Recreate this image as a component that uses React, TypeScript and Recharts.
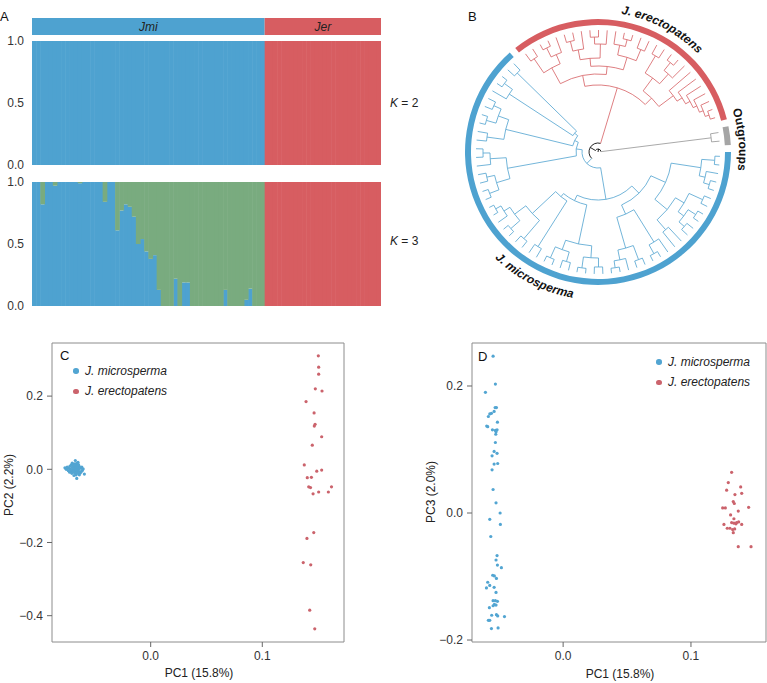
import React from "react";
import {
  BarChart,
  Bar,
  XAxis,
  YAxis,
  LabelList,
  PieChart,
  Pie,
  Cell,
  Customized,
  ScatterChart,
  Scatter,
  ReferenceArea,
} from "recharts";

const FONT = '"Liberation Sans", Arial, Helvetica, sans-serif';
const BLUE = "#4ea2d0";
const RED = "#d75d61";
const GREEN = "#79ab7f";
const GRAY = "#a5a5a5";
const DOT_BLUE = "#52a5d2";
const DOT_RED = "#cb636c";
const TEXT = "#222";

// ---- panel A: admixture proportions ----
const groupNames = ["Jmi", "Jer"];
const groupSizes = [56, 28];

const k2JmiBlue = [
  1, 1, 1, 1, 1, 1, 1, 1, 1, 1, 1, 1, 1, 1, 1, 1, 1, 1, 1, 1, 1, 1, 1, 1, 1, 1, 1, 1,
  1, 1, 1, 1, 1, 1, 1, 1, 1, 1, 1, 1, 1, 1, 1, 1, 1, 1, 1, 1, 1, 1, 1, 1, 1, 1, 1, 1,
];
const k2JerRed = [
  1, 1, 1, 1, 1, 1, 1, 1, 1, 1, 1, 1, 1, 1, 1, 1, 1, 1, 1, 1, 1, 1, 1, 1, 1, 1, 1, 1,
];

const k3JmiBlue = [
  1, 1, 0.82, 1, 1, 0.97, 1, 1, 1, 1, 1, 0.99, 1, 1, 1, 1, 1, 0.84, 1, 1, 0.61, 0.77,
  0.82, 0.8, 0.72, 0.5, 0.54, 0.44, 0.38, 0.41, 0.13, 0, 0, 0, 0.22, 0, 0.19, 0.19, 0, 0,
  0, 0, 0, 0, 0, 0, 0.13, 0, 0, 0, 0, 0.05, 0.14, 0, 0, 0,
];
const k3JmiGreen = [
  0, 0, 0.18, 0, 0, 0.03, 0, 0, 0, 0, 0, 0.01, 0, 0, 0, 0, 0, 0.16, 0, 0, 0.39, 0.23,
  0.18, 0.2, 0.28, 0.5, 0.46, 0.56, 0.62, 0.59, 0.87, 1, 1, 1, 0.78, 1, 0.81, 0.81, 1, 1,
  1, 1, 1, 1, 1, 1, 0.87, 1, 1, 1, 1, 0.95, 0.86, 1, 1, 1,
];
const k3JerRed = [
  1, 1, 1, 1, 1, 1, 1, 1, 1, 1, 1, 1, 1, 1, 1, 1, 1, 1, 1, 1, 1, 1, 1, 1, 1, 1, 1, 1,
];

const qTicks = [0, 0.5, 1];

// ---- panel B: tree (cladogram, internal labels = node radius) ----
const ringSegments = [
  { name: "J. microsperma", value: 56, color: BLUE },
  { name: "gap1", value: 0.75, color: "transparent" },
  { name: "J. erectopatens", value: 28, color: RED },
  { name: "gap2", value: 0.75, color: "transparent" },
  { name: "Outgroups", value: 2, color: GRAY },
  { name: "gap3", value: 0.75, color: "transparent" },
];

const jerG1 = "((x,x)113,((x,x)116,x)106)96";
const jerG2 = "(((x,x)114,x)104,((x,x)115,x)108)94";
const jerG3 = "((x,(x,x)116)109,(x,x)111)99";
const jerG4 = "((x,x)112,((x,x)115,x)105)92";
const jerG5 = "(x,(x,(x,(x,(x,(x,x)117)113)109)105)100)94";
const jerClade = `((${jerG1},(${jerG2},${jerG3})86)78,(${jerG4},${jerG5})76)67`;

const jmiF1 = "((x,x)117,(x,(x,x)116)110)104";
const jmiF2 = "((x,x)115,((x,x)116,(x,x)114)107)100";
const jmiF3 = "(x,x)103";
const jmiR2 = "((x,(x,x)116)106,((x,x)115,(x,(x,x)117)110)100)68";
const jmiP1 = "(((x,x)115,(x,x)117)106,((x,x)114,(x,x)116)104)94";
const jmiP2 = "(x,x)112";
const jmiP3 = "((x,x)114,((x,x)116,(x,(x,x)117)111)104)90";
const jmiS1 = "(((x,x)116,(x,x)114)106,(x,(x,x)115)108)92";
const jmiS2 = "((x,x)112,((x,x)116,(x,x)114)106)95";
const jmiS3 = "(x,(x,x)116)106";
const jmiS4 = "(x,x)113";
const jmiClade = `((((${jmiF1},(${jmiF2},${jmiF3})90)74,${jmiR2})58,(${jmiP1},(${jmiP2},${jmiP3})58)54)48,(${jmiS1},(${jmiS2},(${jmiS3},${jmiS4})30)26)22)16`;

const outClade = "(x,x)114";
const treeNewick = `((${jmiClade},${jerClade})9,${outClade})3`;

// ---- panels C / D: PCA ----
const cMicro = [
  [-0.0672, 0.003], [-0.0655, -0.004], [-0.0701, 0.006], [-0.0688, -0.002], [-0.064, 0.008],
  [-0.0719, 0.001], [-0.0663, 0.012], [-0.0679, -0.009], [-0.0646, -0.012], [-0.0731, 0.004],
  [-0.0694, 0.01], [-0.0658, 0.001], [-0.0712, -0.006], [-0.0627, 0.003], [-0.0684, 0.015],
  [-0.0668, -0.015], [-0.0744, 0.002], [-0.0651, 0.019], [-0.0706, -0.011], [-0.0636, -0.006],
  [-0.0675, 0.024], [-0.0662, -0.025], [-0.0768, 0.004], [-0.0594, -0.013], [-0.0617, 0.006],
  [-0.069, 0.004], [-0.0649, 0.006], [-0.0723, 0.009], [-0.0683, -0.005], [-0.066, -0.008],
  [-0.0698, -0.001], [-0.0643, 0.001], [-0.0756, 0.0], [-0.0631, -0.01], [-0.0677, 0.008],
  [-0.0709, 0.013], [-0.0654, -0.002], [-0.0687, -0.017], [-0.0612, -0.003], [-0.067, -0.001],
  [-0.0737, -0.004], [-0.0647, 0.013], [-0.0695, 0.002], [-0.0605, 0.001], [-0.0666, 0.005],
  [-0.0715, -0.002], [-0.0639, -0.015], [-0.0681, 0.011], [-0.0657, 0.009], [-0.0726, -0.008],
  [-0.0622, -0.007], [-0.0692, -0.007], [-0.0674, -0.011], [-0.0703, 0.017], [-0.0664, 0.016],
  [-0.0748, 0.006],
];
const cErect = [
  [0.1502, 0.31], [0.1505, 0.279], [0.1505, 0.26], [0.1475, 0.22], [0.1535, 0.214],
  [0.1392, 0.185], [0.1464, 0.154], [0.1473, 0.123], [0.1466, 0.118], [0.1532, 0.089],
  [0.1448, 0.066], [0.1376, 0.012], [0.1488, -0.005], [0.1532, -0.002], [0.1403, -0.023],
  [0.144, -0.022], [0.1416, -0.048], [0.1432, -0.05], [0.162, -0.048], [0.1455, -0.067],
  [0.1505, -0.062], [0.1592, -0.062], [0.1461, -0.173], [0.14, -0.189], [0.1367, -0.255],
  [0.1434, -0.261], [0.1425, -0.385], [0.147, -0.436],
];
const dMicro = [
  [-0.0548, 0.247], [-0.053, 0.203], [-0.0608, 0.19], [-0.0532, 0.166], [-0.0522, 0.166],
  [-0.0561, 0.157], [-0.0574, 0.156], [-0.0585, 0.152], [-0.054, 0.16], [-0.0514, 0.143],
  [-0.0598, 0.137], [-0.059, 0.136], [-0.0553, 0.131], [-0.053, 0.13], [-0.0525, 0.128],
  [-0.0527, 0.124], [-0.0517, 0.131], [-0.053, 0.111], [-0.054, 0.097], [-0.0517, 0.094],
  [-0.0556, 0.09], [-0.054, 0.077], [-0.0512, 0.078], [-0.0556, 0.068], [-0.0548, 0.037],
  [-0.0525, 0.016], [-0.0493, 0.0], [-0.0574, -0.01], [-0.0491, -0.018], [-0.0566, -0.037],
  [-0.0517, -0.067], [-0.0525, -0.074], [-0.0514, -0.082], [-0.0483, -0.086], [-0.0551, -0.098],
  [-0.0538, -0.099], [-0.0522, -0.103], [-0.059, -0.109], [-0.0574, -0.114], [-0.06, -0.118],
  [-0.054, -0.117], [-0.0525, -0.125], [-0.0548, -0.138], [-0.053, -0.138], [-0.0514, -0.139],
  [-0.0538, -0.144], [-0.0548, -0.146], [-0.0577, -0.149], [-0.0525, -0.145], [-0.0559, -0.161],
  [-0.0522, -0.16], [-0.0512, -0.162], [-0.0459, -0.163], [-0.0585, -0.169], [-0.0574, -0.169],
  [-0.0561, -0.182], [-0.0509, -0.181],
];
const dErect = [
  [0.1318, 0.064], [0.1292, 0.048], [0.1389, 0.041], [0.1279, 0.036], [0.1344, 0.029],
  [0.1397, 0.031], [0.1331, 0.018], [0.1339, 0.015], [0.137, 0.003], [0.1451, 0.009],
  [0.1248, 0.008], [0.1269, 0.008], [0.131, -0.003], [0.1336, -0.009], [0.1357, -0.015],
  [0.1373, -0.014], [0.1318, -0.015], [0.1336, -0.016], [0.1352, -0.017], [0.1397, -0.018],
  [0.1258, -0.018], [0.1284, -0.024], [0.1305, -0.024], [0.1342, -0.025], [0.1326, -0.026],
  [0.1331, -0.031], [0.137, -0.053], [0.147, -0.053],
];
const pcXTicks = [0, 0.1];
const cYTicks = [0.2, 0, -0.2, -0.4];
const dYTicks = [0.2, 0, -0.2];

const speciesNames = ["J. microsperma", "J. erectopatens"];

// ---------------------------------------------------------------
const fmt1 = (v: number) => (v < 0 ? "\u2212" : "") + Math.abs(v).toFixed(1);
const toPts = (arr: number[][]) => arr.map(([x, y]) => ({ x, y }));

const k2Rows = [
  ...k2JmiBlue.map((v, i) => ({ id: `mi${i}`, blue: v, red: 0 })),
  ...k2JerRed.map((v, i) => ({ id: `er${i}`, blue: 0, red: v })),
];
const k3Rows = [
  ...k3JmiBlue.map((v, i) => ({ id: `mi${i}`, blue: v, green: k3JmiGreen[i], red: 0 })),
  ...k3JerRed.map((v, i) => ({ id: `er${i}`, blue: 0, green: 0, red: v })),
];

// bars slightly widened so adjacent individuals don't leave white seams
const seamless = (p: any) =>
  p.height > 0 ? (
    <rect x={p.x} y={p.y} width={p.width + 0.7} height={p.height} fill={p.fill} />
  ) : null;

function Admixture({ rows, keys }: { rows: any[]; keys: { key: string; color: string }[] }) {
  return (
    <BarChart
      width={381}
      height={140}
      data={rows}
      margin={{ top: 6, right: 0, bottom: 10, left: 0 }}
      barCategoryGap={0}
      barGap={0}
    >
      <XAxis dataKey="id" hide />
      <YAxis
        domain={[0, 1]}
        ticks={qTicks}
        interval={0}
        tickFormatter={fmt1}
        width={32}
        axisLine={false}
        tickLine={false}
        tick={{ fontSize: 12, fill: "#333", fontFamily: FONT }}
      />
      {keys.map((k) => (
        <Bar
          key={k.key}
          dataKey={k.key}
          stackId="q"
          fill={k.color}
          shape={seamless}
          isAnimationActive={false}
        />
      ))}
    </BarChart>
  );
}

function Header() {
  const row: any = { name: "pop" };
  groupNames.forEach((g, i) => (row[g] = groupSizes[i]));
  const total = groupSizes.reduce((a, b) => a + b, 0);
  const colors = [BLUE, RED];
  return (
    <BarChart
      width={349}
      height={17}
      layout="vertical"
      data={[row]}
      margin={{ top: 0, right: 0, bottom: 0, left: 0 }}
      barCategoryGap={0}
    >
      <XAxis type="number" domain={[0, total]} hide />
      <YAxis type="category" dataKey="name" hide />
      {groupNames.map((g, i) => (
        <Bar key={g} dataKey={g} stackId="h" fill={colors[i]} isAnimationActive={false}>
          <LabelList
            dataKey={g}
            position="center"
            formatter={() => g}
            fill={TEXT}
            fontSize={12}
            fontStyle="italic"
            fontFamily={FONT}
          />
        </Bar>
      ))}
    </BarChart>
  );
}

// ---- tree helpers ----
type TNode = { r: number; children: TNode[]; leaf?: boolean; angle: number; color: string };
const TIP_R = 122;
const CX = 148;
const CY = 152;

function parseTree(s: string): TNode {
  let i = 0;
  const readNum = () => {
    const j = i;
    while (i < s.length && /[0-9.]/.test(s[i])) i++;
    return parseFloat(s.slice(j, i));
  };
  const node = (): TNode => {
    if (s[i] === "x") {
      i++;
      return { r: TIP_R, children: [], leaf: true, angle: 0, color: "#000" };
    }
    i++;
    const children = [node()];
    while (s[i] === ",") {
      i++;
      children.push(node());
    }
    i++;
    return { r: readNum(), children, angle: 0, color: "#000" };
  };
  return node();
}

const paint = (n: TNode, c: string) => {
  n.color = c;
  n.children.forEach((ch) => paint(ch, c));
};

const pol = (r: number, a: number) => [
  CX + r * Math.cos((a * Math.PI) / 180),
  CY + r * Math.sin((a * Math.PI) / 180),
];

function buildTree() {
  const root = parseTree(treeNewick);
  const ingroup = root.children[0];
  paint(ingroup.children[0], "#5aa8d2");
  paint(ingroup.children[1], "#d8686c");
  paint(root.children[1], "#9a9a9a");
  const sizes = ringSegments.filter((s) => !s.name.startsWith("gap")).map((s) => s.value);
  const gap = ringSegments.find((s) => s.name.startsWith("gap"))!.value;
  const total = ringSegments.reduce((a, s) => a + s.value, 0);
  const step = 360 / total;
  let k = 0;
  const unitOf = (idx: number) => {
    let acc = 0;
    for (let g = 0; g < sizes.length; g++) {
      if (idx < acc + sizes[g]) return idx + g * gap + 0.5;
      acc += sizes[g];
    }
    return idx + 0.5;
  };
  const assign = (n: TNode) => {
    if (n.leaf) n.angle = unitOf(k++) * step;
    else {
      n.children.forEach(assign);
      n.angle = (n.children[0].angle + n.children[n.children.length - 1].angle) / 2;
    }
  };
  assign(root);
  const segs: { d: string; color: string }[] = [];
  const draw = (n: TNode, pr: number) => {
    const [x1, y1] = pol(pr, n.angle);
    const [x2, y2] = pol(n.r, n.angle);
    segs.push({ d: `M${x1},${y1}L${x2},${y2}`, color: n.color });
    if (!n.leaf) {
      const a1 = n.children[0].angle;
      const a2 = n.children[n.children.length - 1].angle;
      const [ax, ay] = pol(n.r, a1);
      const [bx, by] = pol(n.r, a2);
      segs.push({
        d: `M${ax},${ay}A${n.r},${n.r} 0 ${a2 - a1 > 180 ? 1 : 0} 1 ${bx},${by}`,
        color: n.color,
      });
      n.children.forEach((c) => draw(c, n.r));
    }
  };
  draw(root, 0);
  return segs;
}

const arcPath = (r: number, a1: number, a2: number, sweep: number) => {
  const [x1, y1] = pol(r, a1);
  const [x2, y2] = pol(r, a2);
  return `M${x1},${y1}A${r},${r} 0 0 ${sweep} ${x2},${y2}`;
};

function TreeLayer() {
  const segs = buildTree();
  const lab = { fontSize: 12, fontWeight: "bold" as const, fontFamily: FONT, fill: "#111" };
  return (
    <g>
      <defs>
        <path id="arc-jer" d={arcPath(140, 262, 333, 1)} />
        <path id="arc-out" d={arcPath(141, 330, 380, 1)} />
        <path id="arc-jmi" d={arcPath(148, 152, 82, 0)} />
      </defs>
      {segs.map((s, i) => (
        <path key={i} d={s.d} stroke={s.color} strokeWidth={0.85} fill="none" />
      ))}
      <text {...lab} fontStyle="italic">
        <textPath href="#arc-jer" startOffset="50%" textAnchor="middle">
          {speciesNames[1]}
        </textPath>
      </text>
      <text {...lab}>
        <textPath href="#arc-out" startOffset="50%" textAnchor="middle">
          Outgroups
        </textPath>
      </text>
      <text {...lab} fontStyle="italic">
        <textPath href="#arc-jmi" startOffset="50%" textAnchor="middle">
          {speciesNames[0]}
        </textPath>
      </text>
    </g>
  );
}

function TreePanel() {
  return (
    <PieChart width={317} height={320} margin={{ top: 0, right: 0, bottom: 0, left: 0 }}>
      <Customized component={TreeLayer} />
      <Pie
        data={ringSegments}
        dataKey="value"
        cx={CX}
        cy={CY}
        innerRadius={127}
        outerRadius={133}
        startAngle={0}
        endAngle={-360}
        stroke="none"
        isAnimationActive={false}
      >
        {ringSegments.map((s) => (
          <Cell key={s.name} fill={s.color} />
        ))}
      </Pie>
    </PieChart>
  );
}

const dotShape = (color: string) => (p: any) => <circle cx={p.cx} cy={p.cy} r={1.6} fill={color} />;

function PcaPanel(props: {
  width: number;
  yWidth: number;
  right: number;
  xDomain: [number, number];
  yDomain: [number, number];
  yTicks: number[];
  blue: number[][];
  red: number[][];
}) {
  const tick = { fontSize: 12, fill: "#333", fontFamily: FONT };
  const { xDomain, yDomain } = props;
  return (
    <ScatterChart
      width={props.width}
      height={353}
      margin={{ top: 13, right: props.right, bottom: 11, left: 0 }}
    >
      <XAxis
        type="number"
        dataKey="x"
        domain={xDomain}
        ticks={pcXTicks}
        interval={0}
        allowDataOverflow
        tickFormatter={fmt1}
        axisLine={false}
        tickSize={5}
        tickMargin={4}
        height={30}
        tick={tick}
        tickLine={{ stroke: "#666" }}
      />
      <YAxis
        type="number"
        dataKey="y"
        domain={yDomain}
        ticks={props.yTicks}
        interval={0}
        allowDataOverflow
        tickFormatter={fmt1}
        axisLine={false}
        tickSize={5}
        tickMargin={4}
        width={props.yWidth}
        tick={tick}
        tickLine={{ stroke: "#666" }}
      />
      <ReferenceArea
        x1={xDomain[0]}
        x2={xDomain[1]}
        y1={yDomain[0]}
        y2={yDomain[1]}
        fill="none"
        stroke="#8c8c8c"
        strokeWidth={1}
      />
      <Scatter data={toPts(props.blue)} shape={dotShape(DOT_BLUE)} isAnimationActive={false} />
      <Scatter data={toPts(props.red)} shape={dotShape(DOT_RED)} isAnimationActive={false} />
    </ScatterChart>
  );
}

const abs = (left: number, top: number, extra: React.CSSProperties = {}): React.CSSProperties => ({
  position: "absolute",
  left,
  top,
  whiteSpace: "nowrap",
  ...extra,
});

function Legend({ x, y }: { x: number; y: number }) {
  const colors = [DOT_BLUE, DOT_RED];
  return (
    <>
      {speciesNames.map((s, i) => (
        <React.Fragment key={s}>
          <span
            style={abs(x - 2.8, y + i * 20.5 - 2.8, {
              width: 5.6,
              height: 5.6,
              borderRadius: "50%",
              background: colors[i],
            })}
          />
          <div
            style={abs(x + 9, y + i * 20.5 - 7.5, {
              fontSize: 12,
              lineHeight: "14px",
              fontStyle: "italic",
              color: TEXT,
            })}
          >
            {s}
          </div>
        </React.Fragment>
      ))}
    </>
  );
}

const Rot = ({ x, y, text }: { x: number; y: number; text: string }) => (
  <div
    style={abs(x, y, {
      fontSize: 12,
      lineHeight: "14px",
      color: TEXT,
      transform: "translate(-50%, -50%) rotate(-90deg)",
    })}
  >
    {text}
  </div>
);

const Centered = ({ x, y, text }: { x: number; y: number; text: string }) => (
  <div style={abs(x, y - 7, { fontSize: 12, lineHeight: "14px", color: TEXT, transform: "translateX(-50%)" })}>
    {text}
  </div>
);

const Letter = ({ x, y, t }: { x: number; y: number; t: string }) => (
  <div style={abs(x, y - 6.5, { fontSize: 13, lineHeight: "13px", color: "#111" })}>{t}</div>
);

export default function App() {
  return (
    <div
      style={{
        position: "absolute",
        left: 0,
        top: 0,
        width: 767,
        height: 683,
        background: "#fff",
        fontFamily: FONT,
        overflow: "hidden",
      }}
    >
      {/* A */}
      <Letter x={0} y={16} t="A" />
      <div style={abs(32, 18)}>
        <Header />
      </div>
      <div style={abs(0, 35)}>
        <Admixture rows={k2Rows} keys={[{ key: "blue", color: BLUE }, { key: "red", color: RED }]} />
      </div>
      <div style={abs(0, 176)}>
        <Admixture
          rows={k3Rows}
          keys={[
            { key: "blue", color: BLUE },
            { key: "green", color: GREEN },
            { key: "red", color: RED },
          ]}
        />
      </div>
      <div style={abs(390, 96, { fontSize: 12, lineHeight: "14px", color: TEXT })}>
        <i>K</i> = 2
      </div>
      <div style={abs(390, 234, { fontSize: 12, lineHeight: "14px", color: TEXT })}>
        <i>K</i> = 3
      </div>

      {/* B */}
      <Letter x={468} y={16} t="B" />
      <div style={abs(450, 0)}>
        <TreePanel />
      </div>

      {/* C */}
      <div style={abs(0, 330)}>
        <PcaPanel
          width={350}
          yWidth={52}
          right={6}
          xDomain={[-0.0884, 0.1732]}
          yDomain={[-0.4719, 0.3451]}
          yTicks={cYTicks}
          blue={cMicro}
          red={cErect}
        />
      </div>
      <Letter x={60} y={355} t="C" />
      <Legend x={76} y={371} />
      <Centered x={199} y={673} text="PC1 (15.8%)" />
      <Rot x={9} y={485} text="PC2 (2.2%)" />

      {/* D */}
      <div style={abs(390, 330)}>
        <PcaPanel
          width={377}
          yWidth={82}
          right={1}
          xDomain={[-0.0713, 0.1587]}
          yDomain={[-0.2031, 0.2677]}
          yTicks={dYTicks}
          blue={dMicro}
          red={dErect}
        />
      </div>
      <Letter x={478} y={356} t="D" />
      <Legend x={659} y={362} />
      <Centered x={620} y={674} text="PC1 (15.8%)" />
      <Rot x={431} y={492} text="PC3 (2.0%)" />
    </div>
  );
}
